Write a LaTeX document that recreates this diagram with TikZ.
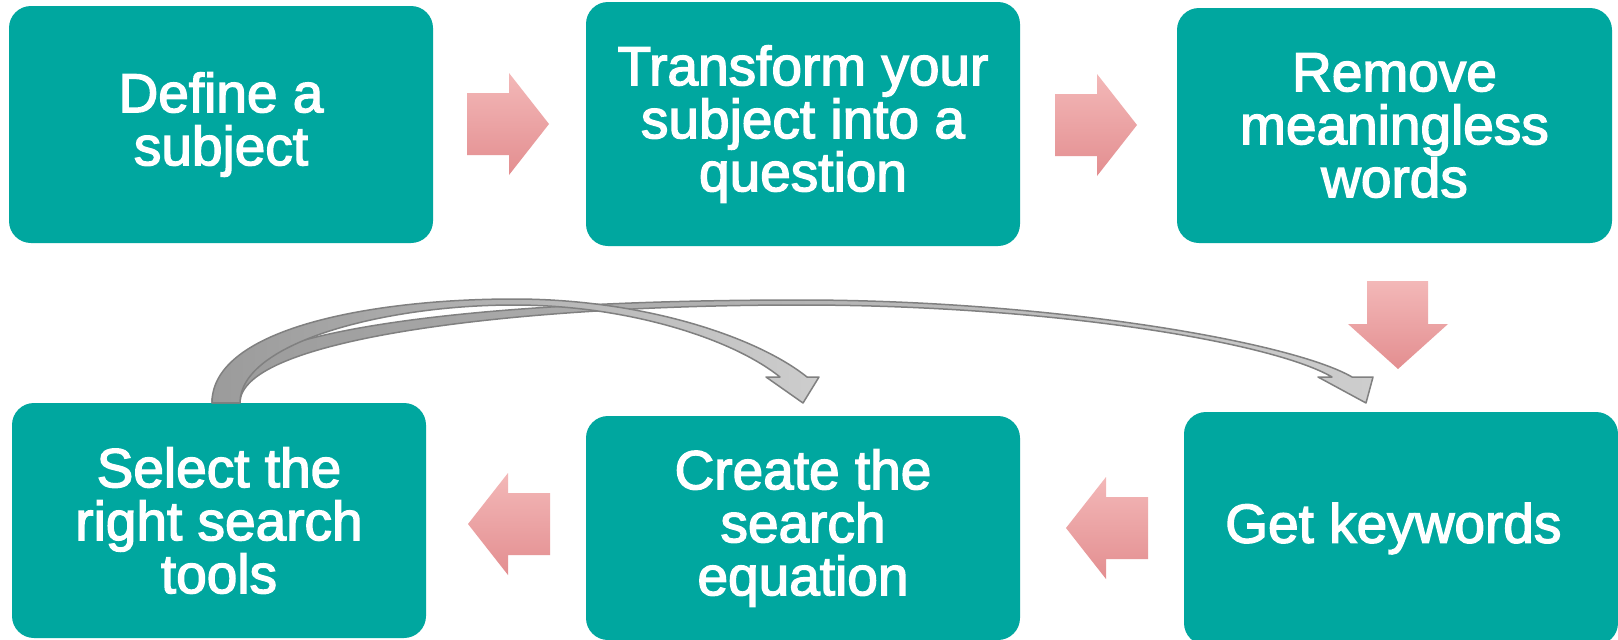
\documentclass[tikz,border=0pt]{standalone}
\usepackage{fontspec}
\setmainfont{Liberation Sans}
\newfontfamily\stepfont[FakeBold=2.5]{Liberation Sans}
\begin{document}
\begin{tikzpicture}[x=1pt,y=-1pt,
  task/.style={fill=boxteal,rounded corners=22pt,inner sep=0pt,
    text=white,align=center,font=\stepfont\fontsize{55}{53}\selectfont},
  flow/.style={draw=none,top color=pinktop,bottom color=pinkbot},
  loopback/.style={draw=loopedge,line width=1.5pt,line join=round,
    left color=loopdark,right color=looplight}]
 \definecolor{boxteal}{RGB}{0,167,159}
 \definecolor{pinktop}{RGB}{243,184,184}
 \definecolor{pinkbot}{RGB}{227,142,144}
 \definecolor{loopedge}{RGB}{128,128,128}
 \definecolor{loopdark}{RGB}{155,155,155}
 \definecolor{looplight}{RGB}{205,205,205}
 \path[use as bounding box,fill=white] (0,0) rectangle (1618,640);
 % the six steps
 \foreach \nm/\xp/\yp/\w/\h/\txt in {
   define/221/124.5/424/237/{Define a\\subject},
   transform/803/124/434/244/{Transform your\\subject into a\\question},
   remove/1394.5/125.5/435/235/{Remove\\meaningless\\words},
   tools/219/520.5/414/235/{Select the\\right search\\tools},
   equation/803/528/434/224/{Create the\\search\\equation},
   keywords/1401/528.5/434/233/{Get keywords}
 } {
   \node[task,minimum width=\w pt,minimum height=\h pt] (\nm) at (\xp,\yp) {\txt};
 }
 % straight block arrows
 \foreach \xp/\yp/\d in {467/124/1, 1055/125/1, 1148/528/-1, 550/524/-1} {
   \path[flow] (\xp,\yp-31) -- ({\xp+42*\d},\yp-31) -- ({\xp+42*\d},\yp-51)
     -- ({\xp+82*\d},\yp) -- ({\xp+42*\d},\yp+51) -- ({\xp+42*\d},\yp+31)
     -- (\xp,\yp+31) -- cycle;
 }
 \path[flow] (1367,281) -- (1428,281) -- (1428,324) -- (1448,324)
   -- (1398,369) -- (1348,324) -- (1367,324) -- cycle;
 % curved arrows going back
 \path[loopback] ([xshift=-7pt]tools.north)
   .. controls +(0,-80) and +(-280,0) .. (800,300)
   .. controls +(250,0) and +(-60,-35) .. (1352,377)
   -- (1373,377) -- (1366,403) -- (1318,377) -- (1332,377)
   .. controls +(-60,-35) and +(250,0) .. (800,305)
   .. controls +(-280,0) and +(0,-65) .. ([xshift=21pt]tools.north) -- cycle;
 \path[loopback] ([xshift=-7pt]tools.north)
   .. controls +(0,-75) and +(-140,0) .. (514,299)
   .. controls +(130,0) and +(-50,-40) .. (807,377)
   -- (819,377) -- (803,403) -- (766,377) -- (780,377)
   .. controls +(-50,-40) and +(110,0) .. (514,305)
   .. controls +(-130,0) and +(0,-60) .. ([xshift=21pt]tools.north) -- cycle;
\end{tikzpicture}
\end{document}
